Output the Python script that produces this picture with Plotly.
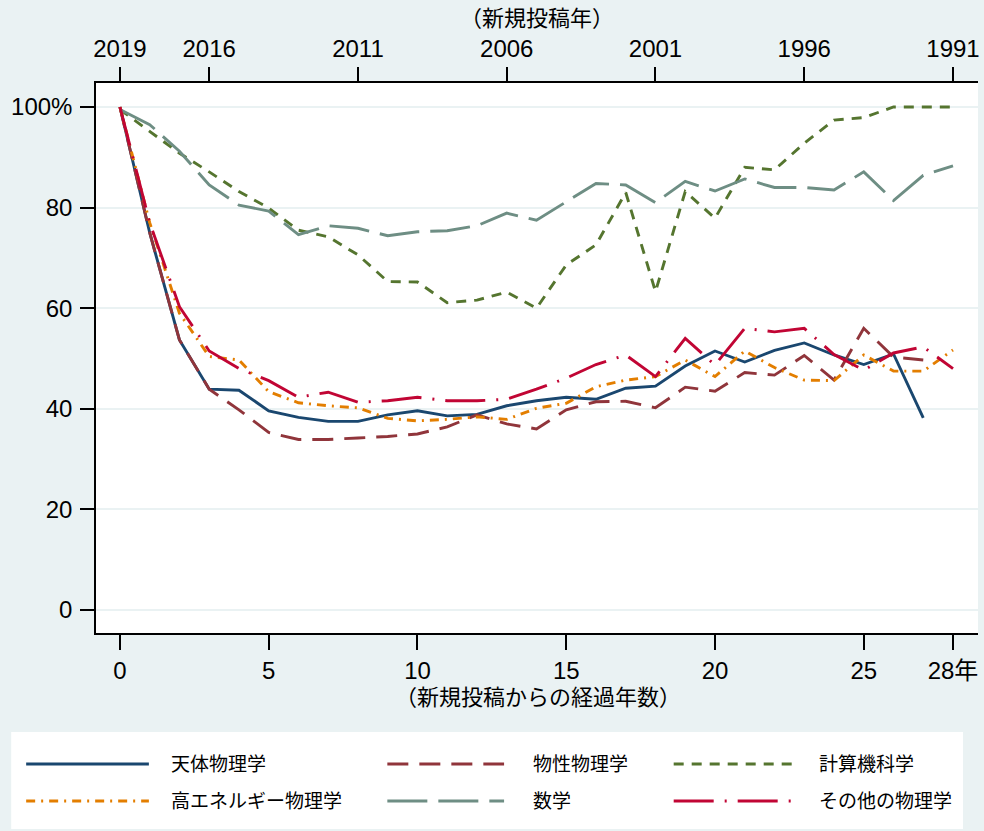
import plotly.graph_objects as go

# 経過年数 (0..28) と新規投稿年
years = list(range(29))
top_tick_pos = [0, 3, 8, 13, 18, 23, 28]
top_tick_text = ["2019", "2016", "2011", "2006", "2001", "1996", "1991"]
bottom_tick_pos = [0, 5, 10, 15, 20, 25, 28]
bottom_tick_text = ["0", "5", "10", "15", "20", "25", "28年"]
y_tick_pos = [0, 20, 40, 60, 80, 100]
y_tick_text = ["0", "20", "40", "60", "80", "100%"]

names = ["天体物理学", "物性物理学", "計算機科学",
         "高エネルギー物理学", "数学", "その他の物理学"]

astro = [100, 75, 53.7, 43.9, 43.7, 39.6, 38.3, 37.5, 37.5, 38.8, 39.6, 38.6, 38.9, 40.6,
         41.6, 42.3, 41.9, 44.1, 44.5, 48.5, 51.5, 49.3, 51.6, 53.1, 50.7, 48.8, 50.9, 38.2]
condmat = [100, 75, 53.7, 43.9, 39.8, 35.3, 33.9, 33.9, 34.2, 34.5, 35.0, 36.4, 38.8, 37.0,
           36.0, 39.8, 41.4, 41.5, 40.2, 44.3, 43.5, 47.2, 46.7, 50.6, 45.7, 56.0, 50.3, 49.7]
cs = [99.5, 95.1, 90.8, 87.1, 83.2, 79.9, 75.5, 74.2, 70.6, 65.3, 65.2, 61.1, 61.6, 63.2,
      60.0, 68.6, 72.6, 83.0, 63.3, 83.2, 77.9, 88.0, 87.5, 92.8, 97.4, 97.9, 100, 100, 100]
hep = [100, 77, 59.0, 50.4, 49.7, 43.4, 41.2, 40.6, 40.2, 38.1, 37.6, 37.9, 38.4, 37.9,
       40.1, 41.1, 44.4, 45.7, 46.4, 49.7, 46.4, 51.5, 48.2, 45.7, 45.6, 50.7, 47.5, 47.5, 51.7]
math = [99.5, 96.5, 91.2, 84.5, 80.5, 79.3, 74.6, 76.4, 75.9, 74.4, 75.2, 75.4, 76.4, 78.9,
        77.5, 81.2, 84.8, 84.5, 81.0, 85.2, 83.3, 85.7, 84.0, 84.0, 83.5, 87.1, 81.4, 86.4, 88.3]
other = [100, 77, 60.3, 51.5, 48.0, 45.6, 42.3, 43.3, 41.3, 41.6, 42.3, 41.6, 41.6, 41.9,
         43.9, 46.1, 48.8, 50.7, 46.4, 54.0, 48.7, 56.0, 55.3, 56.0, 50.8, 47.7, 51.1, 52.3, 48.0]

series = [astro, condmat, cs, hep, math, other]
colors = ["#1a476f", "#90353b", "#55752f", "#e37e00", "#6e8e84", "#c10534"]
dashes = ["solid", "21px,11px", "10px,8px", "9px,6px,2px,6px", "40px,11px", "40px,11px,2px,11px"]

BG = "#eaf2f3"
FONT = "Liberation Sans, Arial, Noto Sans CJK JP"
W, H = 984, 831
L, R, T, B = 96, 4, 83, 198


def px(x):
    return (x - L) / (W - L - R)


def py(y):
    return (H - B - y) / (H - T - B)


fig = go.Figure()
for name, vals, c, d in zip(names, series, colors, dashes):
    fig.add_trace(go.Scatter(x=years[:len(vals)], y=vals, mode="lines", name=name,
                             line=dict(color=c, width=2.9, dash=d), showlegend=False,
                             hoverinfo="skip"))

# 上側の年軸を作るための空トレース
fig.add_trace(go.Scatter(x=[top_tick_pos[0], top_tick_pos[-1]], y=[None, None],
                         xaxis="x2", mode="lines", showlegend=False, hoverinfo="skip"))

xr = [-0.805, 28.84]
axis_common = dict(ticks="outside", tickwidth=1.5, tickcolor="black", showline=True,
                   linecolor="black", linewidth=1.5, zeroline=False,
                   tickfont=dict(family=FONT, size=24, color="black"))

fig.update_layout(
    width=W, height=H,
    margin=dict(l=L, r=R, t=T, b=B),
    paper_bgcolor=BG, plot_bgcolor="white",
    font=dict(family=FONT, color="black"),
    xaxis=dict(range=xr, tickmode="array", tickvals=bottom_tick_pos, ticktext=bottom_tick_text,
               ticklen=15, showgrid=False, ticklabelstandoff=0, **axis_common),
    xaxis2=dict(range=xr, overlaying="x", side="top", tickmode="array",
                tickvals=top_tick_pos, ticktext=top_tick_text, ticklen=14,
                showgrid=False, ticklabelstandoff=1, **axis_common),
    yaxis=dict(range=[-4.57, 104.77], tickmode="array", tickvals=y_tick_pos,
               ticktext=y_tick_text, ticklen=14, showgrid=True, gridcolor=BG, gridwidth=2,
               ticklabelstandoff=3, **axis_common),
)

shapes = []
annotations = []

# 軸タイトル
annotations.append(dict(text="（新規投稿年）", x=px(538), y=py(18), xref="paper", yref="paper",
                        showarrow=False, xanchor="center", yanchor="middle",
                        font=dict(family=FONT, size=22, color="black")))
annotations.append(dict(text="（新規投稿からの経過年数）", x=px(539), y=py(697), xref="paper",
                        yref="paper", showarrow=False, xanchor="center", yanchor="middle",
                        font=dict(family=FONT, size=22, color="black")))

# 凡例 (Stata 風の長い線見本)
shapes.append(dict(type="rect", xref="paper", yref="paper", x0=px(11), x1=px(965),
                   y0=py(829), y1=py(732), fillcolor="white", line=dict(width=0)))
col_lines = [(26, 149), (388, 505), (675, 794)]
col_text = [169, 532, 819]
row_y = [764, 801]
for i, (name, c, d) in enumerate(zip(names, colors, dashes)):
    col, row = i % 3, i // 3
    x0, x1 = col_lines[col]
    yy = py(row_y[row])
    shapes.append(dict(type="line", xref="paper", yref="paper", x0=px(x0), x1=px(x1),
                       y0=yy, y1=yy, line=dict(color=c, width=2.9, dash=d)))
    annotations.append(dict(text=name, x=px(col_text[col]), y=yy, xref="paper", yref="paper",
                            showarrow=False, xanchor="left", yanchor="middle",
                            font=dict(family=FONT, size=19, color="black")))

fig.update_layout(shapes=shapes, annotations=annotations)
# ページ余白を消して 984x831 にぴったり収める
fig.write_html("out.html", config={"displayModeBar": False},
               post_script="document.body.style.margin='0';document.body.style.overflow='hidden';")
